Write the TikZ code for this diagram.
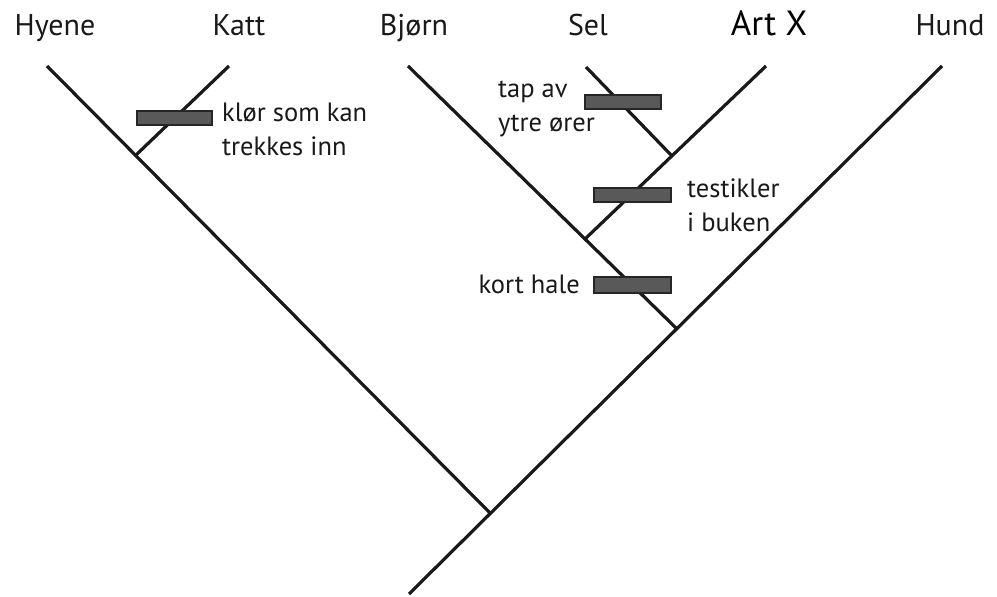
\documentclass[tikz,border=0pt]{standalone}
\usepackage{fontspec}
\setmainfont{PT Sans}
\usepackage{xcolor}
\usepackage{tikz}
\usetikzlibrary{positioning}

\begin{document}
\begin{tikzpicture}[
    x=1pt, y=-1pt,
    branch/.style={line width=3.2pt, black!90},
    trait/.style={
      rectangle, draw=black!85, line width=2pt, fill=black!65,
      minimum width=75pt, minimum height=14pt, inner sep=0pt
    },
    taxon/.style={
      font=\fontsize{30}{32}\selectfont, text=black!90,
      inner sep=0pt, anchor=base
    },
    note/.style={
      font=\fontsize{26.5}{34}\selectfont, text=black!90,
      align=left, inner sep=0pt
    }
  ]
  \useasboundingbox (0,0) rectangle (997,597);

  % tips
  \coordinate (hyene) at (47,66);
  \coordinate (katt)  at (229,66);
  \coordinate (bjorn) at (408,66);
  \coordinate (sel)   at (586,67);
  \coordinate (artx)  at (766,66);
  \coordinate (hund)  at (942,66);

  % branch points
  \coordinate (root) at (409,594);
  \coordinate (n1) at (490,513);
  \coordinate (n2) at (136,155);
  \coordinate (n3) at (676,328);
  \coordinate (n4) at (585,239);
  \coordinate (n5) at (672,156);

  \draw[branch] (root) -- (hund);
  \draw[branch] (n1) -- (hyene);
  \draw[branch] (n2) -- (katt);
  \draw[branch] (n3) -- (bjorn);
  \draw[branch] (n4) -- (artx);
  \draw[branch] (n5) -- (sel);

  % names of the species
  \node[taxon] (lhyene) at (55,35)  {Hyene};
  \node[taxon] (lkatt)  at (239,35) {Katt};
  \node[taxon] (lbjorn) at (414,35) {Bjørn};
  \node[taxon] (lsel)   at (588,35) {Sel};
  \node[taxon, font=\fontsize{35}{37}\selectfont, text=black] (lartx) at (769,35) {Art X};
  \node[taxon] (lhund)  at (950,35) {Hund};

  % traits on the branches
  \node[trait, minimum width=75pt] (tklor) at (174.5,117.5) {};
  \node[trait, minimum width=76pt] (tore)  at (623,102) {};
  \node[trait, minimum width=77pt] (ttest) at (632.5,194.5) {};
  \node[trait, minimum width=77pt, minimum height=16pt] (thale) at (632.5,285) {};

  \node[note, anchor=west] (nklor) at (222,129) {klør som kan\\trekkes inn};
  \node[note, anchor=west] (nore)  at (498,109) {tap av\\ytre ører};
  \node[note, anchor=west] (ntest) at (687,205) {testikler\\i buken};
  \node[note, anchor=east] (nhale) at (580,284) {kort hale};
\end{tikzpicture}
\end{document}
